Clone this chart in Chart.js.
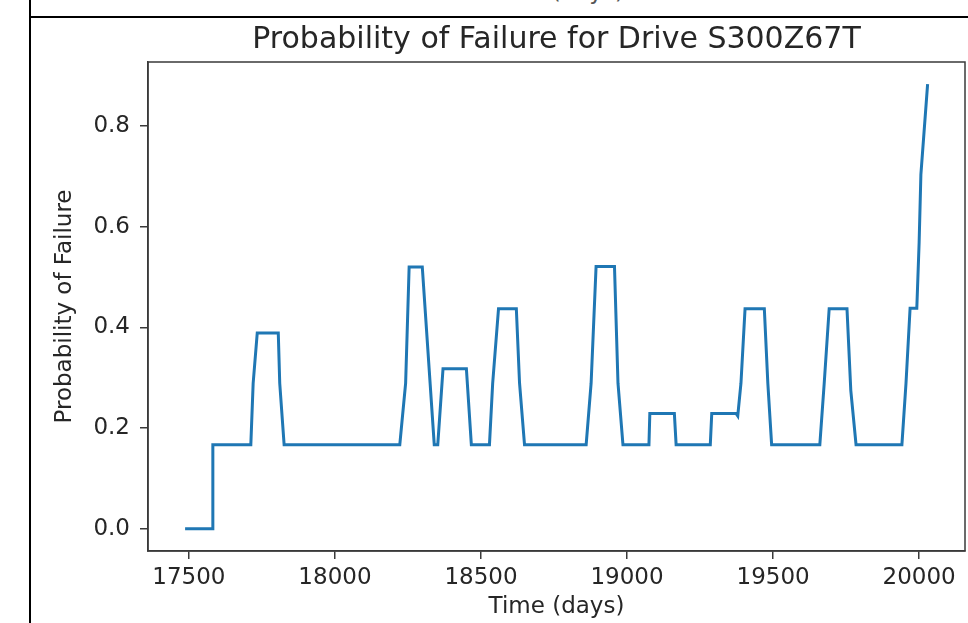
<!DOCTYPE html>
<html>
<head>
<meta charset="utf-8">
<title>Probability of Failure for Drive S300Z67T</title>
<script src="https://cdn.jsdelivr.net/npm/chart.js@4.4.1/dist/chart.umd.min.js"></script>
<style>
    html, body {
        margin: 0;
        padding: 0;
        background: #ffffff;
        overflow: hidden;
    }
    .page {
        position: relative;
        width: 968px;
        height: 623px;
        overflow: hidden;
        font-family: "DejaVu Sans", sans-serif;
    }
    /* notebook cell frame around the figure */
    .cell-left {
        position: absolute;
        left: 29px;
        top: 0;
        width: 2px;
        height: 623px;
        background: #000;
    }
    .cell-top {
        position: absolute;
        left: 29px;
        top: 16px;
        width: 939px;
        height: 2px;
        background: #000;
    }
    /* bottom of the previous cell's x label, cut off by the frame */
    .prev-label {
        position: absolute;
        left: 0;
        width: 1112px;
        top: -22px;
        text-align: center;
        font-size: 23px;
        color: #555;
    }
    #chart {
        position: absolute;
        left: 0;
        top: 0;
    }
</style>
</head>
<body>
<div class="page">
    <div class="prev-label">Time (days)</div>
    <div class="cell-left"></div>
    <div class="cell-top"></div>
    <!-- canvas runs past the page edge so the title centres over the axes -->
    <canvas id="chart" width="1113" height="623"></canvas>
</div>
<script>
// Corner points of the failure curve
const days = [
    17487, 17580, 17582, 17712, 17720, 17734, 17806, 17811, 17826,
    18222, 18242, 18254, 18299, 18340, 18352, 18370, 18450, 18467,
    18529, 18540, 18560, 18621, 18632, 18649,
    18860, 18877, 18894, 18957, 18969, 18986,
    19075, 19078, 19162, 19168, 19285, 19290, 19373, 19379,
    19390, 19404, 19470, 19482, 19495,
    19660, 19675, 19692, 19753, 19766, 19784,
    19941, 19955, 19969, 19992, 20000, 20006, 20029
];
const failureProb = [
    0.0, 0.0, 0.167, 0.167, 0.289, 0.389, 0.389, 0.289, 0.167,
    0.167, 0.289, 0.52, 0.52, 0.167, 0.167, 0.318, 0.318, 0.167,
    0.167, 0.289, 0.437, 0.437, 0.289, 0.167,
    0.167, 0.289, 0.521, 0.521, 0.289, 0.167,
    0.167, 0.229, 0.229, 0.167, 0.167, 0.229, 0.229, 0.224,
    0.289, 0.437, 0.437, 0.289, 0.167,
    0.167, 0.289, 0.437, 0.437, 0.275, 0.167,
    0.167, 0.289, 0.438, 0.438, 0.569, 0.704, 0.883
];

const xTicks = [17500, 18000, 18500, 19000, 19500, 20000];
const yTicks = [0.0, 0.2, 0.4, 0.6, 0.8];

const inkColor = '#262626';
const spineColor = '#3a3a3a';

// Chart.js only draws the left and bottom borders, add the other two spines
const boxPlugin = {
    id: 'axesBox',
    afterDraw(chart) {
        const { ctx, chartArea } = chart;
        ctx.save();
        ctx.strokeStyle = spineColor;
        ctx.lineWidth = 1.5;
        ctx.strokeRect(chartArea.left, chartArea.top,
            chartArea.right - chartArea.left, chartArea.bottom - chartArea.top);
        ctx.restore();
    }
};

const points = days.map((d, i) => ({ x: d, y: failureProb[i] }));

new Chart(document.getElementById('chart'), {
    type: 'line',
    data: {
        datasets: [{
            label: 'Probability of Failure',
            data: points,
            borderColor: '#1f77b4',
            borderWidth: 3,
            pointRadius: 0,
            tension: 0,
            fill: false
        }]
    },
    options: {
        responsive: false,
        animation: false,
        devicePixelRatio: 1,
        layout: {
            padding: 0
        },
        plugins: {
            legend: { display: false },
            tooltip: { enabled: false },
            title: {
                display: true,
                text: 'Probability of Failure for Drive S300Z67T',
                color: inkColor,
                font: { family: 'DejaVu Sans', size: 30, weight: 'normal' },
                padding: { top: 22, bottom: 4 }
            }
        },
        scales: {
            x: {
                type: 'linear',
                min: 17360,
                max: 20157,
                afterBuildTicks: (scale) => {
                    scale.ticks = xTicks.map(v => ({ value: v }));
                },
                afterFit: (scale) => {
                    scale.height = 72;
                },
                ticks: {
                    color: inkColor,
                    padding: 5,
                    maxRotation: 0,
                    font: { family: 'DejaVu Sans', size: 23 },
                    callback: (value) => String(value)
                },
                grid: {
                    drawOnChartArea: false,
                    drawTicks: true,
                    tickLength: 8,
                    color: spineColor,
                    lineWidth: 1.5
                },
                border: { display: true, color: spineColor, width: 1.5 },
                title: {
                    display: true,
                    text: 'Time (days)',
                    color: inkColor,
                    font: { family: 'DejaVu Sans', size: 23 },
                    padding: { top: 0, bottom: 2 }
                }
            },
            y: {
                type: 'linear',
                min: -0.0442,
                max: 0.927,
                afterBuildTicks: (scale) => {
                    scale.ticks = yTicks.map(v => ({ value: v }));
                },
                afterFit: (scale) => {
                    scale.width = 148;
                },
                ticks: {
                    color: inkColor,
                    padding: 10,
                    font: { family: 'DejaVu Sans', size: 23 },
                    callback: (value) => value.toFixed(1)
                },
                grid: {
                    drawOnChartArea: false,
                    drawTicks: true,
                    tickLength: 8,
                    color: spineColor,
                    lineWidth: 1.5
                },
                border: { display: true, color: spineColor, width: 1.5 },
                title: {
                    display: true,
                    text: 'Probability of Failure',
                    color: inkColor,
                    font: { family: 'DejaVu Sans', size: 23 },
                    padding: { top: 51, bottom: 0 }
                }
            },
            // empty right-hand box, same width as the y axis, keeps the title centred on the plot
            yRight: {
                type: 'linear',
                position: 'right',
                min: 0,
                max: 1,
                afterFit: (scale) => {
                    scale.width = 148;
                },
                ticks: { display: false },
                grid: { display: false },
                border: { display: false }
            }
        }
    },
    plugins: [boxPlugin]
});
</script>
</body>
</html>
